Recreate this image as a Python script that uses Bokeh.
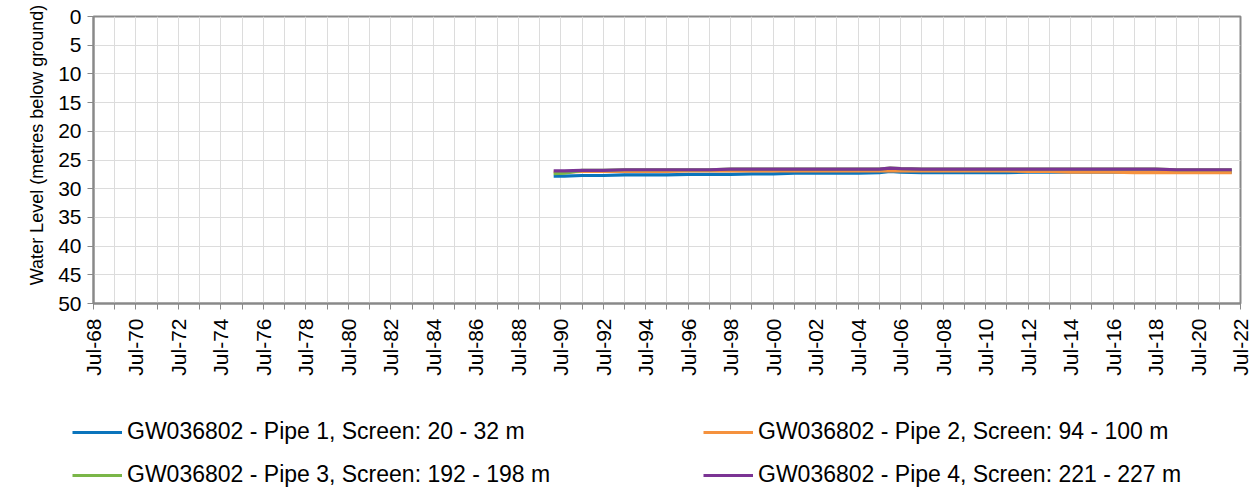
import pandas as pd
from math import pi
from bokeh.plotting import figure
from bokeh.models import (Range1d, FixedTicker, DatetimeTickFormatter, Legend, LegendItem,
                          ColumnDataSource)
from bokeh.embed import file_html
from bokeh.resources import INLINE

# ---- data ----
dates = ["1990-03-01", "1990-09-01", "1991-07-01", "1992-07-01", "1993-07-01", "1994-07-01",
         "1995-07-01", "1996-07-01", "1997-07-01", "1998-07-01", "1999-07-01", "2000-07-01",
         "2001-07-01", "2002-07-01", "2003-07-01", "2004-07-01", "2005-07-01", "2006-01-01",
         "2006-07-01", "2007-07-01", "2008-07-01", "2009-07-01", "2010-07-01", "2011-07-01",
         "2012-07-01", "2013-07-01", "2014-07-01", "2015-07-01", "2016-07-01", "2017-07-01",
         "2018-07-01", "2019-07-01", "2020-07-01", "2021-07-01", "2022-02-01"]
pipe1 = [27.8, 27.8, 27.7, 27.7, 27.6, 27.6, 27.6, 27.5, 27.5, 27.5, 27.4, 27.4,
         27.3, 27.3, 27.3, 27.3, 27.2, 27.0, 27.1, 27.2, 27.2, 27.2, 27.2, 27.2,
         27.1, 27.1, 27.1, 27.1, 27.1, 27.1, 27.1, 27.1, 27.1, 27.1, 27.1]
pipe2 = [27.1, 27.1, 27.0, 27.0, 27.0, 27.0, 27.0, 26.9, 26.9, 26.9, 26.9, 26.9,
         26.9, 26.9, 26.9, 26.9, 26.9, 26.9, 26.9, 26.9, 26.9, 26.9, 26.9, 26.9,
         27.0, 27.0, 27.1, 27.1, 27.1, 27.2, 27.2, 27.2, 27.2, 27.2, 27.2]
pipe3 = [27.4, 27.3, 26.8, 26.8, 26.7, 26.7, 26.7, 26.7, 26.7, 26.6, 26.6, 26.6,
         26.6, 26.6, 26.6, 26.6, 26.6, 26.4, 26.5, 26.6, 26.6, 26.6, 26.6, 26.6,
         26.6, 26.6, 26.6, 26.6, 26.6, 26.6, 26.6, 26.7, 26.7, 26.7, 26.7]
pipe4 = [26.9, 26.9, 26.8, 26.8, 26.7, 26.7, 26.7, 26.7, 26.7, 26.6, 26.6, 26.6,
         26.6, 26.6, 26.6, 26.6, 26.6, 26.4, 26.5, 26.6, 26.6, 26.6, 26.6, 26.6,
         26.6, 26.6, 26.6, 26.6, 26.6, 26.6, 26.6, 26.7, 26.7, 26.7, 26.7]

names = ["GW036802 - Pipe 1, Screen: 20 - 32 m",
         "GW036802 - Pipe 2, Screen: 94 - 100 m",
         "GW036802 - Pipe 3, Screen: 192 - 198 m",
         "GW036802 - Pipe 4, Screen: 221 - 227 m"]
colors = ["#0a74bc", "#f5923e", "#7ab648", "#7b3494"]

label_years = list(range(1968, 2023, 2))
minor_years = list(range(1969, 2022, 2))
y_ticks = list(range(0, 51, 5))

# ---- main figure ----
FONT = "Liberation Sans"
x = pd.to_datetime(dates)
src = ColumnDataSource(dict(x=x, p1=pipe1, p2=pipe2, p3=pipe3, p4=pipe4))
cols = ["p1", "p2", "p3", "p4"]

def ms(y):
    return pd.Timestamp(f"{y}-07-01").value / 1e6

p = figure(width=1259, height=400, x_axis_type="datetime", output_backend="svg",
           toolbar_location=None,
           x_range=Range1d(ms(1968), ms(2022)), y_range=Range1d(50, 0),
           min_border_left=93, min_border_right=19, min_border_top=16, min_border_bottom=97)
p.background_fill_color = "white"
p.border_fill_color = "white"
p.outline_line_color = "#898989"
p.outline_line_width = 2

xt = FixedTicker(ticks=[ms(y) for y in label_years], minor_ticks=[ms(y) for y in minor_years])
p.xaxis.ticker = xt
p.xaxis.formatter = DatetimeTickFormatter(days="%b-%y", months="%b-%y", years="%b-%y")
p.xaxis.major_label_orientation = pi / 2
p.xgrid.ticker = xt
p.xgrid.grid_line_color = "#dcdcdc"
p.xgrid.minor_grid_line_color = "#dcdcdc"

p.yaxis.ticker = FixedTicker(ticks=y_ticks)
p.yaxis.minor_tick_line_color = None
p.ygrid.grid_line_color = "#dcdcdc"
p.yaxis.axis_label = "\u00a0" * 6 + "Water Level (metres below ground)"

for ax in (p.xaxis[0], p.yaxis[0]):
    ax.axis_line_color = "#898989"
    ax.axis_line_width = 2
    ax.major_tick_line_color = "#898989"
    ax.minor_tick_line_color = "#898989" if ax is p.xaxis[0] else None
    ax.major_tick_in = 0
    ax.major_tick_out = 6
    ax.minor_tick_in = 0
    ax.minor_tick_out = 6
    ax.major_label_text_font = FONT
    ax.major_label_text_font_size = "21px"
    ax.major_label_text_color = "black"
    ax.axis_label_text_font = FONT
    ax.axis_label_text_font_size = "18px"
    ax.axis_label_text_font_style = "normal"
    ax.axis_label_text_color = "black"
p.xaxis.major_label_standoff = 9
p.yaxis.major_label_standoff = 6
p.yaxis.axis_label_standoff = 8

for col, c in zip(cols, colors):
    p.line("x", col, source=src, line_color=c, line_width=3.2)

# ---- legend strip (its own root, so its frame is not aligned to the chart's) ----
q = figure(width=1259, height=90, output_backend="svg", toolbar_location=None,
           x_range=Range1d(0, 1), y_range=Range1d(0, 1),
           min_border=0, min_border_left=0, min_border_right=0,
           min_border_top=0, min_border_bottom=0)
q.axis.visible = False
q.grid.visible = False
q.outline_line_color = None
q.background_fill_color = "white"
q.border_fill_color = "white"
# same series; these fall outside this strip's ranges and only serve the legend keys
proxies = [q.line("x", col, source=src, line_color=c, line_width=3.2)
           for col, c in zip(cols, colors)]

legend = Legend(items=[LegendItem(label=n, renderers=[r]) for n, r in zip(names, proxies)],
                ncols=2, location=(72, 2), orientation="horizontal")
legend.label_text_font = FONT
legend.label_text_font_size = "23px"
legend.label_text_color = "black"
legend.glyph_width = 50
legend.glyph_height = 26
legend.label_height = 26
legend.label_standoff = 5
legend.label_width = 560
legend.spacing = 16
legend.padding = 0
legend.margin = 0
legend.border_line_color = None
legend.background_fill_alpha = 0
q.add_layout(legend, "center")

open("out.html", "w").write(file_html([p, q], INLINE))
